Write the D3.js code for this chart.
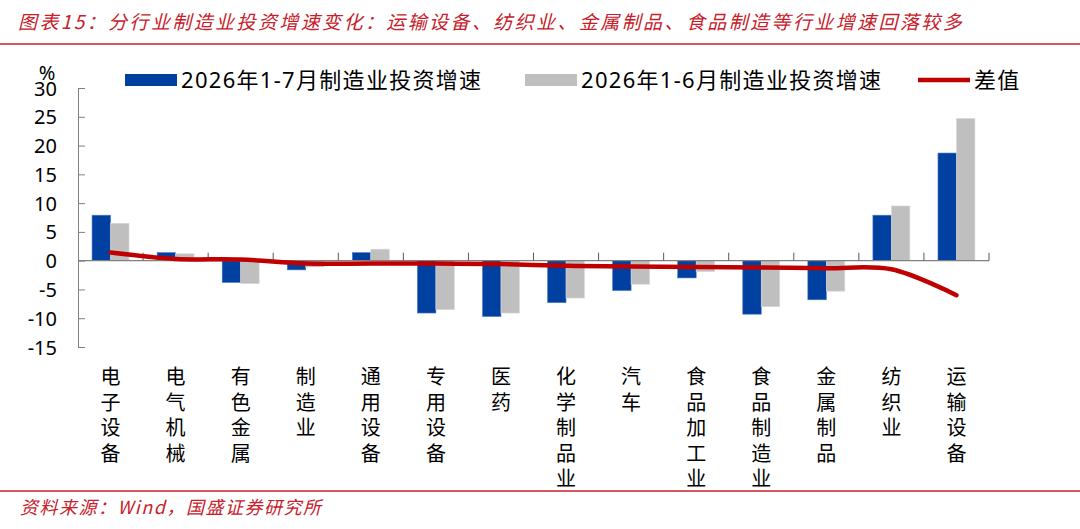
<!DOCTYPE html>
<html>
<head>
  <meta charset="utf-8">
  <style>
    body { margin: 0; background: #fff; }
    svg { display: block; }
    text { font-family: "Noto Sans", "Noto Sans CJK SC", sans-serif; }
    .cjk { font-family: "Noto Sans CJK SC", sans-serif; }
  </style>
</head>
<body>
  <svg id="chart" width="1080" height="529"></svg>

  <script src="https://d3js.org/d3.v7.min.js"></script>
  <script>
    const categories = ['电子设备', '电气机械', '有色金属', '制造业', '通用设备', '专用设备', '医药',
      '化学制品业', '汽车', '食品加工业', '食品制造业', '金属制品', '纺织业', '运输设备'];
    const julyValues = [7.9, 1.4, -3.8, -1.6, 1.4, -9.1, -9.7, -7.3, -5.2, -3.0, -9.3, -6.8, 7.9, 18.7];
    const juneValues = [6.5, 1.2, -4.0, -1.1, 2.0, -8.5, -9.1, -6.5, -4.1, -1.9, -8.0, -5.3, 9.5, 24.7];
    const diffValues = [1.4, 0.3, 0.2, -0.5, -0.5, -0.5, -0.6, -0.9, -1.0, -1.1, -1.2, -1.3, -1.5, -6.0];
    const yTicks = [30, 25, 20, 15, 10, 5, 0, -5, -10, -15];
    const seriesNames = ['2026年1-7月制造业投资增速', '2026年1-6月制造业投资增速', '差值'];

    const blue = '#0040A0';
    const grey = '#BFBFBF';
    const red = '#C00000';
    const titleRed = '#C8202A';

    const svg = d3.select('#chart');

    // Title and rules
    svg.append('text')
      .attr('x', 18).attr('y', 29)
      .attr('class', 'cjk')
      .style('font-size', '19px')
      .style('font-style', 'italic')
      .style('letter-spacing', '2.4px')
      .attr('fill', titleRed)
      .text('图表15：分行业制造业投资增速变化：运输设备、纺织业、金属制品、食品制造等行业增速回落较多');

    svg.append('line')
      .attr('x1', 0).attr('x2', 1080).attr('y1', 44).attr('y2', 44)
      .attr('stroke', titleRed).attr('stroke-width', 1.5);

    svg.append('line')
      .attr('x1', 0).attr('x2', 1080).attr('y1', 491).attr('y2', 491)
      .attr('stroke', titleRed).attr('stroke-width', 1.5);

    svg.append('text')
      .attr('x', 20).attr('y', 514)
      .attr('class', 'cjk')
      .style('font-size', '18px')
      .style('font-style', 'italic')
      .style('letter-spacing', '1.5px')
      .attr('fill', titleRed)
      .text('资料来源：Wind，国盛证券研究所');

    // Scales
    const x = d3.scaleBand()
      .domain(categories)
      .range([78, 989])
      .padding(0);

    const xSub = d3.scaleBand()
      .domain([0, 1])
      .range([0, x.bandwidth()])
      .paddingOuter(0.76)
      .paddingInner(0);

    const y = d3.scaleLinear()
      .domain([-15, 30])
      .range([347, 88]);

    // Bars
    const groups = svg.append('g')
      .selectAll('g')
      .data(categories)
      .enter()
      .append('g')
      .attr('transform', d => `translate(${x(d)},0)`);

    groups.append('rect')
      .attr('x', xSub(0))
      .attr('width', xSub.bandwidth())
      .attr('y', (d, i) => y(Math.max(0, julyValues[i])))
      .attr('height', (d, i) => Math.abs(y(julyValues[i]) - y(0)))
      .attr('fill', blue)
      .attr('stroke', '#4D7CC8')
      .attr('stroke-width', 0.6);

    groups.append('rect')
      .attr('x', xSub(1))
      .attr('width', xSub.bandwidth())
      .attr('y', (d, i) => y(Math.max(0, juneValues[i])))
      .attr('height', (d, i) => Math.abs(y(juneValues[i]) - y(0)))
      .attr('fill', grey)
      .attr('stroke', '#D9D9D9')
      .attr('stroke-width', 0.6);

    // Y axis
    const yAxis = d3.axisLeft(y)
      .tickValues(yTicks)
      .tickSizeInner(-7)
      .tickSizeOuter(0)
      .tickPadding(21)
      .tickFormat(d => d);

    const yg = svg.append('g')
      .attr('transform', 'translate(78,0)')
      .call(yAxis);
    yg.select('.domain').attr('stroke', '#808080');
    yg.selectAll('.tick line').attr('stroke', '#808080');
    yg.selectAll('.tick text')
      .style('font-size', '20px')
      .attr('fill', '#000')
      .attr('dy', '0.35em');

    svg.append('text')
      .attr('x', 47).attr('y', 80)
      .attr('text-anchor', 'middle')
      .style('font-size', '20px')
      .attr('fill', '#000')
      .text('%');

    // Zero line with category ticks
    const zero = svg.append('g').attr('transform', `translate(0,${y(0)})`);
    zero.append('line')
      .attr('x1', 78).attr('x2', 989)
      .attr('stroke', '#808080').attr('stroke-width', 1.2);
    zero.selectAll('.xtick')
      .data(categories)
      .enter()
      .append('line')
      .attr('class', 'xtick')
      .attr('x1', d => x(d) + x.bandwidth())
      .attr('x2', d => x(d) + x.bandwidth())
      .attr('y1', 0).attr('y2', -8)
      .attr('stroke', '#595959').attr('stroke-width', 1);

    // Difference line
    const line = d3.line()
      .x((d, i) => x(categories[i]) + x.bandwidth() / 2)
      .y(d => y(d))
      .curve(d3.curveCatmullRom.alpha(0.5));

    svg.append('path')
      .datum(diffValues)
      .attr('d', line)
      .attr('fill', 'none')
      .attr('stroke', red)
      .attr('stroke-width', 4.5)
      .attr('stroke-linecap', 'round');

    // X labels, one character per line
    const chars = categories.flatMap(cat => Array.from(cat).map((ch, i) => ({ ch, cat, i })));
    svg.append('g')
      .selectAll('text')
      .data(chars)
      .enter()
      .append('text')
      .attr('class', 'cjk')
      .attr('text-anchor', 'middle')
      .attr('x', d => x(d.cat) + x.bandwidth() / 2)
      .attr('y', d => 384 + d.i * 25.5)
      .style('font-size', '20px')
      .attr('fill', '#000')
      .text(d => d.ch);

    // Legend
    const legendItems = [
      { name: seriesNames[0], x: 125, type: 'rect', color: blue },
      { name: seriesNames[1], x: 525, type: 'rect', color: grey },
      { name: seriesNames[2], x: 918, type: 'line', color: red }
    ];

    const legend = svg.append('g')
      .selectAll('g')
      .data(legendItems)
      .enter()
      .append('g')
      .attr('transform', d => `translate(${d.x},80)`);

    legend.filter(d => d.type === 'rect')
      .append('rect')
      .attr('x', 0).attr('y', -6)
      .attr('width', 52).attr('height', 12)
      .attr('fill', d => d.color);

    legend.filter(d => d.type === 'line')
      .append('line')
      .attr('x1', 0).attr('x2', 52)
      .attr('stroke', d => d.color)
      .attr('stroke-width', 4.5);

    legend.append('text')
      .attr('x', 56)
      .attr('y', 8)
      .style('font-size', '22px')
      .style('letter-spacing', '1.3px')
      .attr('fill', '#000')
      .text(d => d.name);
  </script>
</body>
</html>
